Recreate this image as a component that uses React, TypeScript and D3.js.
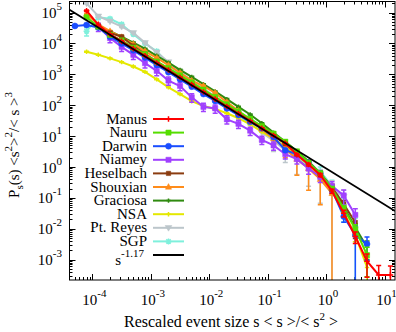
import React from "react";
import * as d3 from "d3";

// logarithmic bins of the rescaled event size (0.2 decade steps)
const binCenters = [5.01e-5, 7.94e-5, 1.26e-4, 2.0e-4, 3.16e-4, 5.01e-4, 7.94e-4, 1.26e-3, 2.0e-3, 3.16e-3,
  5.01e-3, 7.94e-3, 1.26e-2, 2.0e-2, 3.16e-2, 5.01e-2, 7.94e-2, 0.126, 0.2, 0.316,
  0.501, 0.794, 1.26, 2.0, 3.16, 5.01, 7.94, 12.6];

// rescaled densities per site (null = no data), errors are relative
const manusY = [null, 1.15e5, 4.0e4, 2.0e4, 1.17e4, 6.8e3, 4.0e3, 2.34e3, 1.38e3, 790,
  470, 270, 158, 91, 54, 31, 18, 10.5, 5.9, 2.5,
  1.2, 0.55, 0.166, 0.032, 5.6e-3, 8.9e-4, 3.2e-4, 3.2e-4];
const manusErr = [null, 0.05, 0.04, 0.04, 0.04, 0.04, 0.04, 0.04, 0.04, 0.04,
  0.04, 0.04, 0.04, 0.04, 0.04, 0.04, 0.04, 0.04, 0.06, 0.08,
  0.1, 0.12, 0.15, 0.25, 0.4, 0.7, 1.0, 0.95];

const nauruY = [null, 7.1e4, 3.5e4, 1.9e4, 1.26e4, 7.4e3, 4.5e3, 2.6e3, 1.6e3, 930,
  550, 320, 186, 107, 63, 36, 21, 12, 6.6, 3.2,
  1.4, 0.63, 0.2, 0.045, 0.01, 1.4e-3, null, null];
const nauruErr = [null, 0.05, 0.04, 0.04, 0.04, 0.04, 0.04, 0.04, 0.04, 0.04,
  0.04, 0.04, 0.04, 0.04, 0.04, 0.04, 0.04, 0.04, 0.04, 0.04,
  0.08, 0.1, 0.15, 0.25, 0.35, 0.8, null, null];

const darwinY = [3.7e4, 4.0e4, 3.3e4, 1.66e4, 1.0e4, 6.0e3, 3.5e3, 2.0e3, 1.17e3, 690,
  400, 230, 138, 79, 48, 29, 18, 9.3, 3.5, 2.6,
  1.4, 0.63, 0.18, 0.025, 6.3e-3, 3.2e-3, null, null];
const darwinErr = [0.08, 0.05, 0.05, 0.05, 0.05, 0.05, 0.05, 0.05, 0.05, 0.05,
  0.05, 0.05, 0.05, 0.05, 0.05, 0.05, 0.05, 0.05, 0.1, 0.1,
  0.12, 0.15, 0.2, 0.35, 1.0, 0.7, null, null];

const niameyY = [null, null, 3.5e4, 1.5e4, 7.8e3, 4.3e3, 2.3e3, 1.3e3, 630, 420,
  180, 89, 79, 35, 25, 15, 7.6, 5.0, 2.6, 1.8,
  0.89, 0.48, 0.24, 0.12, 0.028, null, null, null];
const niameyErr = [null, null, 0.3, 0.3, 0.3, 0.3, 0.3, 0.3, 0.3, 0.3,
  0.3, 0.3, 0.3, 0.3, 0.3, 0.3, 0.3, 0.3, 0.3, 0.3,
  0.35, 0.35, 0.4, 0.5, 0.6, null, null, null];

const heselbachY = [null, null, null, 2.2e4, 1.66e4, 8.3e3, 4.6e3, 2.6e3, 1.5e3, 870,
  500, 300, 170, 98, 56, 32, 19, 10.5, 5.6, 2.9,
  1.4, 0.63, 0.22, 0.063, 0.016, null, null, null];
const heselbachErr = [null, null, null, 0.06, 0.06, 0.06, 0.06, 0.06, 0.06, 0.06,
  0.06, 0.06, 0.06, 0.06, 0.06, 0.06, 0.06, 0.06, 0.06, 0.06,
  0.1, 0.12, 0.2, 0.3, 0.7, null, null, null];

const shouxianY = [null, 8.9e4, 4.2e4, 2.5e4, 1.6e4, 9.5e3, 5.6e3, 3.4e3, 2.0e3, 1.12e3,
  630, 420, 250, 126, 66, 33, 17, 8.3, 4.0, 1.8,
  0.89, 0.4, 0.14, null, null, null, null, null];
const shouxianErr = [null, 0.06, 0.06, 0.06, 0.06, 0.06, 0.06, 0.06, 0.06, 0.06,
  0.06, 0.06, 0.06, 0.06, 0.06, 0.06, 0.06, 0.3, 0.5, 0.7,
  0.8, 0.85, 1.0, null, null, null, null, null];

const graciosaY = [null, null, null, 2.5e4, 1.66e4, 1.07e4, 6.8e3, 4.0e3, 2.4e3, 1.4e3,
  830, 480, 280, 158, 89, 50, 26, 13, 6.6, 3.3,
  1.5, 0.63, 0.2, 0.05, 0.011, 2.5e-3, null, null];
const graciosaErr = [null, null, null, 0.04, 0.04, 0.04, 0.04, 0.04, 0.04, 0.04,
  0.04, 0.04, 0.04, 0.04, 0.04, 0.04, 0.04, 0.04, 0.04, 0.04,
  0.04, 0.1, 0.15, 0.2, 0.3, 0.6, null, null];

const nsaY = [null, 5.4e3, 4.3e3, 3.3e3, 2.5e3, 1.8e3, 1.2e3, 690, 380, 230,
  135, 95, 76, 55, 38, 24, 14, 8.3, 4.5, 2.4,
  1.2, 0.5, 0.16, 0.035, 6.3e-3, 5.6e-4, null, null];
const nsaErr = [null, 0.03, 0.03, 0.03, 0.03, 0.03, 0.03, 0.03, 0.03, 0.03,
  0.03, 0.03, 0.03, 0.03, 0.03, 0.03, 0.03, 0.03, 0.03, 0.03,
  0.08, 0.1, 0.15, 0.25, 0.4, 1.0, null, null];

const ptReyesY = [5.6e5, 2.0e5, 7.6e4, 5.2e4, 3.5e4, 2.2e4, 1.05e4, 5.2e3, 2.5e3, 1.2e3,
  630, 350, 190, 105, 56, 30, 13, 7.1, 3.5, 1.9,
  0.95, 0.45, 0.18, 0.11, null, null, null, null];
const ptReyesErr = [0.05, 0.05, 0.05, 0.05, 0.05, 0.05, 0.05, 0.05, 0.05, 0.05,
  0.05, 0.05, 0.05, 0.15, 0.25, 0.4, 0.5, 0.55, 0.6, 0.7,
  0.75, 0.85, 1.0, 0.6, null, null, null, null];

const sgpY = [null, 2.5e4, 7.1e4, 6.3e4, 4.2e4, 2.0e4, 1.0e4, 5.6e3, 2.2e3, 1.0e3,
  500, 260, 150, 85, 48, 26, 15, 8.3, 4.2, 2.1,
  1.12, 0.71, 0.25, 0.056, 0.011, null, null, null];
const sgpErr = [null, 0.3, 0.15, 0.1, 0.08, 0.08, 0.08, 0.08, 0.08, 0.08,
  0.08, 0.08, 0.08, 0.08, 0.08, 0.08, 0.08, 0.08, 0.08, 0.2,
  0.3, 0.4, 0.5, 0.7, 1.0, null, null, null];

const fitAmplitude = 0.9;
const fitExponent = -1.17;

const xTickExps = [-4, -3, -2, -1, 0, 1];
const yTickExps = [-3, -2, -1, 0, 1, 2, 3, 4, 5];

const W = 396;
const H = 332;
const L = 69.5, R = 395, T = 1.5, B = 280;
const FONT = "'Liberation Serif', 'Times New Roman', serif";

type Marker = "plus" | "square" | "smallSquare" | "circle" | "triUp" | "triDown" | "star" | "smallPlus";

const markerPath = (m: Marker) => {
  switch (m) {
    case "plus": return "M-2.8,0H2.8M0,-2.8V2.8";
    case "smallPlus": return "M-2.2,0H2.2M0,-2.2V2.2";
    case "square": return "M-2.6,-2.6h5.2v5.2h-5.2Z";
    case "smallSquare": return "M-2.2,-2.2h4.4v4.4h-4.4Z";
    case "circle": return "M3,0A3,3 0 1,1 -3,0A3,3 0 1,1 3,0Z";
    case "triUp": return "M0,-3.4L3.1,2.2L-3.1,2.2Z";
    case "triDown": return "M0,3.4L3.4,-2.3L-3.4,-2.3Z";
    case "star": return "M-3,0H3M0,-3V3M-2.2,-2.2L2.2,2.2M-2.2,2.2L2.2,-2.2";
  }
};
const isStroked = (m: Marker) => m === "plus" || m === "smallPlus" || m === "star";

const series = [
  { name: "Manus", color: "#ff0000", marker: "plus" as Marker, vals: manusY, errs: manusErr },
  { name: "Nauru", color: "#55dd00", marker: "square" as Marker, vals: nauruY, errs: nauruErr },
  { name: "Darwin", color: "#1a4dff", marker: "circle" as Marker, vals: darwinY, errs: darwinErr },
  { name: "Niamey", color: "#a040ff", marker: "square" as Marker, vals: niameyY, errs: niameyErr },
  { name: "Heselbach", color: "#8b3c10", marker: "smallSquare" as Marker, vals: heselbachY, errs: heselbachErr },
  { name: "Shouxian", color: "#ff8c1a", marker: "triUp" as Marker, vals: shouxianY, errs: shouxianErr },
  { name: "Graciosa", color: "#2f8a10", marker: "smallPlus" as Marker, vals: graciosaY, errs: graciosaErr },
  { name: "NSA", color: "#e4e800", marker: "smallPlus" as Marker, vals: nsaY, errs: nsaErr },
  { name: "Pt. Reyes", color: "#bcc6cb", marker: "triDown" as Marker, vals: ptReyesY, errs: ptReyesErr },
  { name: "SGP", color: "#7ff0dc", marker: "star" as Marker, vals: sgpY, errs: sgpErr },
];

export default function App() {
  const x = d3.scaleLog().domain([4.05e-5, 15.1]).range([L, R]);
  const y = d3.scaleLog().domain([2.19e-4, 2.29e5]).range([B, T]);

  const line = d3.line<{ x: number; v: number }>().x(d => x(d.x)).y(d => y(d.v));

  const xMinor: number[] = [];
  for (let e = -5; e <= 1; e++) for (let m = 2; m <= 9; m++) {
    const v = m * Math.pow(10, e);
    if (v > x.domain()[0] && v < x.domain()[1]) xMinor.push(v);
  }
  const yMinor: number[] = [];
  for (let e = -4; e <= 5; e++) for (let m = 2; m <= 9; m++) {
    const v = m * Math.pow(10, e);
    if (v > y.domain()[0] && v < y.domain()[1]) yMinor.push(v);
  }

  const fitData = x.domain().map(s => ({ x: s, v: fitAmplitude * Math.pow(s, fitExponent) }));

  const legendTop = 119;
  const legendStep = 13.6;

  return (
    <svg width={W} height={H} style={{ position: "absolute", left: 0, top: 0, background: "#fff" }}
      fontFamily={FONT}>
      <defs>
        <clipPath id="plotArea"><rect x={L} y={T} width={R - L} height={B - T} /></clipPath>
      </defs>

      {/* ticks, mirrored on all sides */}
      <g stroke="#000" strokeWidth={1}>
        {xTickExps.map(e => {
          const px = Math.round(x(Math.pow(10, e))) + 0.5;
          return <g key={"xt" + e}>
            <line x1={px} x2={px} y1={B} y2={B - 6} />
            <line x1={px} x2={px} y1={T} y2={T + 6} />
          </g>;
        })}
        {xMinor.map((v, i) => {
          const px = Math.round(x(v)) + 0.5;
          return <g key={"xm" + i}>
            <line x1={px} x2={px} y1={B} y2={B - 3} />
            <line x1={px} x2={px} y1={T} y2={T + 3} />
          </g>;
        })}
        {yTickExps.map(e => {
          const py = Math.round(y(Math.pow(10, e))) + 0.5;
          return <g key={"yt" + e}>
            <line x1={L} x2={L + 6} y1={py} y2={py} />
            <line x1={R} x2={R - 6} y1={py} y2={py} />
          </g>;
        })}
        {yMinor.map((v, i) => {
          const py = Math.round(y(v)) + 0.5;
          return <g key={"ym" + i}>
            <line x1={L} x2={L + 3} y1={py} y2={py} />
            <line x1={R} x2={R - 3} y1={py} y2={py} />
          </g>;
        })}
      </g>

      {/* tick labels */}
      {xTickExps.map(e => (
        <text key={"xl" + e} x={x(Math.pow(10, e)) + 2} y={305} textAnchor="middle" fontSize={15}>
          10<tspan fontSize={11} dy={-8}>{e}</tspan>
        </text>
      ))}
      {yTickExps.map(e => (
        <text key={"yl" + e} x={62} y={y(Math.pow(10, e)) + 5.5} textAnchor="end" fontSize={15}>
          10<tspan fontSize={11} dy={-8}>{e}</tspan>
        </text>
      ))}

      {/* data */}
      <g clipPath="url(#plotArea)">
        {series.slice().reverse().map(s => {
          const pts = binCenters
            .map((c, i) => (s.vals[i] == null ? null : { x: c, v: s.vals[i] as number, r: (s.errs[i] ?? 0) as number }))
            .filter(Boolean) as { x: number; v: number; r: number }[];
          return (
            <g key={s.name}>
              <path d={line(pts) ?? ""} fill="none" stroke={s.color} strokeWidth={2} />
              {pts.map((p, i) => {
                const px = x(p.x);
                const hi = y(p.v * (1 + p.r));
                const loOk = p.v * (1 - p.r) > 0;
                const lo = loOk ? y(p.v * (1 - p.r)) : B + 20;
                return (
                  <g key={i} stroke={s.color} strokeWidth={1.5}>
                    <line x1={px} x2={px} y1={hi} y2={lo} />
                    <line x1={px - 2.5} x2={px + 2.5} y1={hi} y2={hi} />
                    {loOk && <line x1={px - 2.5} x2={px + 2.5} y1={lo} y2={lo} />}
                    <path d={markerPath(s.marker)} transform={`translate(${px},${y(p.v)})`}
                      fill={isStroked(s.marker) ? "none" : s.color}
                      stroke={s.color} strokeWidth={isStroked(s.marker) ? 1.5 : 0.5} />
                  </g>
                );
              })}
            </g>
          );
        })}
        <path d={line(fitData) ?? ""} fill="none" stroke="#000" strokeWidth={1.8} />
      </g>

      {/* frame */}
      <rect x={L} y={T} width={R - L} height={B - T} fill="none" stroke="#000" strokeWidth={1} />

      {/* legend */}
      {series.map((s, i) => {
        const ly = legendTop + i * legendStep;
        return (
          <g key={"lg" + s.name}>
            <text x={147} y={ly + 4.5} textAnchor="end" fontSize={15}>{s.name}</text>
            <line x1={153} x2={184} y1={ly} y2={ly} stroke={s.color} strokeWidth={2} />
            <path d={markerPath(s.marker)} transform={`translate(168.5,${ly})`}
              fill={isStroked(s.marker) ? "none" : s.color} stroke={s.color}
              strokeWidth={isStroked(s.marker) ? 1.5 : 0.5} />
          </g>
        );
      })}
      {(() => {
        const ly = legendTop + series.length * legendStep;
        return (
          <g>
            <text x={144} y={ly + 10} textAnchor="end" fontSize={15}>
              s<tspan fontSize={11} dy={-8}>-1.17</tspan>
            </text>
            <line x1={153} x2={184} y1={ly} y2={ly} stroke="#000" strokeWidth={2} />
          </g>
        );
      })()}

      {/* axis titles */}
      <text x={231} y={327} textAnchor="middle" fontSize={16}>
        Rescaled event size s &lt; s &gt;/&lt; s<tspan fontSize={11} dy={-7}>2</tspan><tspan dy={7}> &gt;</tspan>
      </text>
      <text transform="translate(19,145) rotate(-90)" textAnchor="middle" fontSize={15}>
        P<tspan fontSize={11} dy={4}>s</tspan><tspan dy={-4}>(s) &lt;s</tspan>
        <tspan fontSize={11} dy={-7}>2</tspan><tspan dy={7}>&gt;</tspan>
        <tspan fontSize={11} dy={-7}>2</tspan><tspan dy={7}>/&lt; s &gt;</tspan>
        <tspan fontSize={11} dy={-7}>3</tspan>
      </text>
    </svg>
  );
}
